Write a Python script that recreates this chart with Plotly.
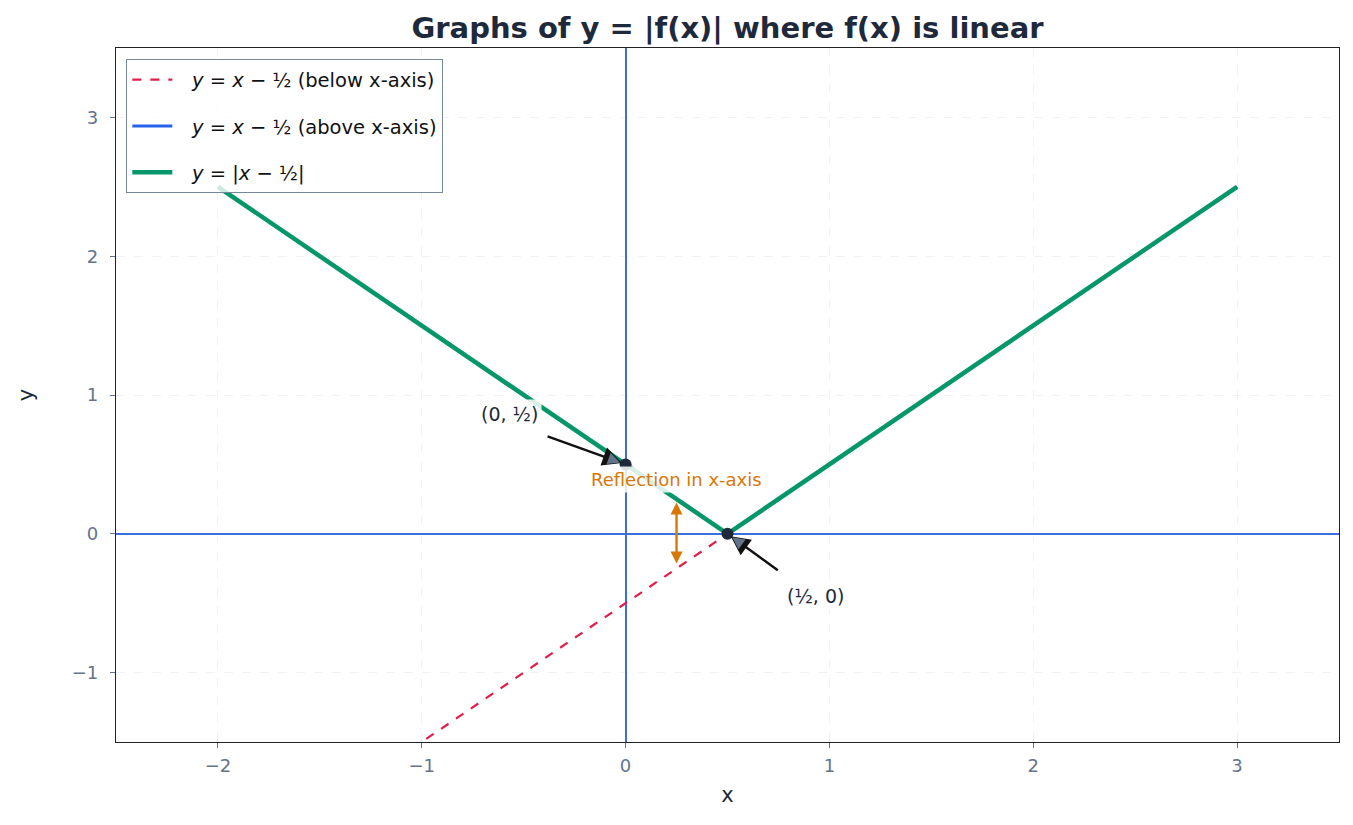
import plotly.graph_objects as go

# Data
x_below = [-2.0, 0.5]
y_below = [-2.5, 0.0]
x_above = [0.5, 3.0]
y_above = [0.0, 2.5]
x_abs = [-2.0, 0.5, 3.0]
y_abs = [2.5, 0.0, 2.5]
key_x = [0.0, 0.5]
key_y = [0.5, 0.0]
x_ticks = [-2, -1, 0, 1, 2, 3]
y_ticks = [-1, 0, 1, 2, 3]

FONT = "DejaVu Sans"
GAP = "\u2002\u2005"

fig = go.Figure()
fig.add_trace(go.Scatter(x=x_below, y=y_below, mode="lines", legendgroup="a",
                         line=dict(color="#e11d48", width=2.2, dash="dash"),
                         name=GAP + "<i>y</i> = <i>x</i> − ½ (below x-axis)"))
fig.add_trace(go.Scatter(x=x_above, y=y_above, mode="lines", legendgroup="b",
                         line=dict(color="#2563eb", width=3),
                         name=GAP + "<i>y</i> = <i>x</i> − ½ (above x-axis)"))
fig.add_trace(go.Scatter(x=x_abs, y=y_abs, mode="lines", legendgroup="c",
                         line=dict(color="#059669", width=4.5),
                         name=GAP + "<i>y</i> = |<i>x</i> − ½|"))
fig.add_trace(go.Scatter(x=key_x, y=key_y, mode="markers",
                         marker=dict(color="#1e293b", size=12),
                         showlegend=False))


def pointer(px, py, tx, ty):
    # black shaft + outlined head
    fig.add_annotation(x=px, y=py, ax=tx, ay=ty, axref="x", ayref="y",
                       text="", showarrow=True, arrowhead=2, arrowsize=1.6,
                       arrowwidth=2.4, arrowcolor="#111111", standoff=4)
    f = 0.2
    fig.add_annotation(x=px, y=py, ax=px + f * (tx - px), ay=py + f * (ty - py),
                       axref="x", ayref="y", text="", showarrow=True,
                       arrowhead=2, arrowsize=1.0, arrowwidth=2.4,
                       arrowcolor="#64748b", standoff=6)


pointer(key_x[0], key_y[0], -0.39, 0.705)
pointer(key_x[1], key_y[1], 0.754, -0.27)

fig.add_annotation(x=-0.57, y=0.86, text="(0, ½)", showarrow=False,
                   font=dict(family=FONT, size=19, color="#1e293b"),
                   bgcolor="rgba(255,255,255,0.85)", borderpad=3)
fig.add_annotation(x=0.93, y=-0.45, text="(½, 0)", showarrow=False,
                   font=dict(family=FONT, size=19, color="#1e293b"),
                   bgcolor="rgba(255,255,255,0.85)", borderpad=3)
fig.add_annotation(x=0.25, y=0.225, ax=0.25, ay=-0.225, axref="x", ayref="y",
                   text="", showarrow=True, arrowhead=2, startarrowhead=2,
                   arrowside="end+start", arrowsize=1.0, startarrowsize=1.0,
                   arrowwidth=2.4, arrowcolor="#d97706")
fig.add_annotation(x=0.25, y=0.39, text="Reflection in x-axis", showarrow=False,
                   font=dict(family=FONT, size=18, color="#d97706"),
                   bgcolor="rgba(255,255,255,0.85)", borderpad=2)

axis_common = dict(
    showline=True, mirror=True, linecolor="#222222", linewidth=1.2,
    ticks="outside", ticklen=5, tickcolor="#64748b",
    tickfont=dict(family=FONT, size=18, color="#64748b"),
    showgrid=True, gridcolor="#f2f2f2", griddash="dash", gridwidth=1,
    zeroline=True, zerolinecolor="#3b6fe0", zerolinewidth=1.5,
)

fig.update_layout(
    width=1353, height=825,
    margin=dict(l=108, r=22, t=40, b=91),
    paper_bgcolor="white", plot_bgcolor="white",
    title=dict(text="<b>Graphs of y = |f(x)| where f(x) is linear</b>",
               x=0.5, xanchor="center", xref="paper", yref="container",
               y=0.976, yanchor="middle",
               font=dict(family=FONT, size=29, color="#1e293b")),
    xaxis=dict(range=[-2.5, 3.5], tickvals=x_ticks, ticklabelstandoff=2,
               title=dict(text="x", font=dict(family=FONT, size=21, color="#1e293b"), standoff=12),
               **axis_common),
    yaxis=dict(range=[-1.5, 3.5], tickvals=y_ticks, ticklabelstandoff=8,
               title=dict(text="y", font=dict(family=FONT, size=21, color="#1e293b"), standoff=32),
               **axis_common),
    legend=dict(x=0.0082, y=0.984, xanchor="left", yanchor="top",
                bgcolor="rgba(255,255,255,0.8)", bordercolor="#778899", borderwidth=1.3,
                font=dict(family=FONT, size=19.5, color="#111111"),
                tracegroupgap=18, itemwidth=40),
    font=dict(family=FONT),
)

fig.write_html("out.html")
